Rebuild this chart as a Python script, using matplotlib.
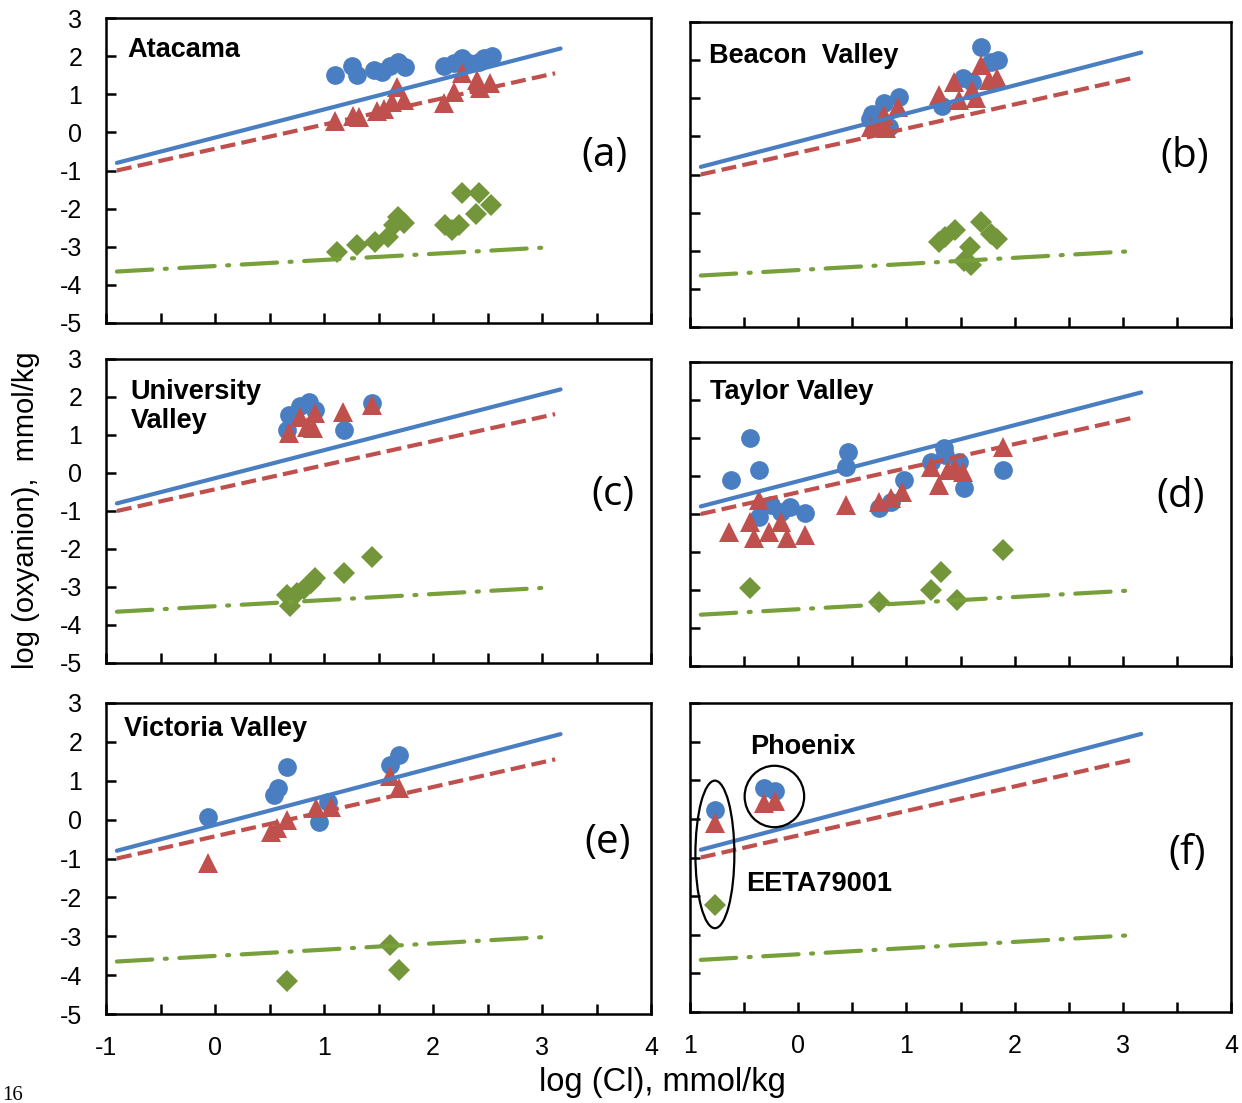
import matplotlib
matplotlib.use("Agg")
import matplotlib.pyplot as plt
from matplotlib.patches import Ellipse

# ---------------- data (log Cl vs log oxyanion, mmol/kg) ----------------
# Panel (a) Atacama
a_circ_x = [1.10, 1.26, 1.30, 1.46, 1.53, 1.61, 1.68, 1.74, 2.10, 2.19, 2.27, 2.33, 2.42, 2.47, 2.54]
a_circ_y = [1.50, 1.74, 1.50, 1.64, 1.59, 1.74, 1.85, 1.72, 1.74, 1.82, 1.95, 1.82, 1.85, 1.95, 2.00]
a_tri_x = [1.10, 1.27, 1.32, 1.49, 1.55, 1.62, 1.67, 1.73, 2.10, 2.19, 2.27, 2.40, 2.43, 2.52]
a_tri_y = [0.30, 0.42, 0.40, 0.55, 0.62, 0.80, 1.20, 0.85, 0.77, 1.07, 1.55, 1.37, 1.16, 1.29]
a_dia_x = [1.12, 1.30, 1.47, 1.59, 1.64, 1.68, 1.73, 2.11, 2.17, 2.24, 2.27, 2.42, 2.39, 2.53]
a_dia_y = [-3.13, -2.96, -2.87, -2.74, -2.43, -2.21, -2.39, -2.43, -2.56, -2.43, -1.60, -1.60, -2.13, -1.91]

# Panel (b) Beacon Valley
b_circ_x = [0.66, 0.68, 0.79, 0.93, 0.84, 1.33, 1.52, 1.61, 1.69, 1.78, 1.85]
b_circ_y = [0.45, 0.60, 0.87, 1.04, 0.25, 0.80, 1.53, 1.43, 2.35, 1.96, 2.00]
b_tri_x = [0.67, 0.75, 0.81, 0.79, 0.92, 1.30, 1.44, 1.49, 1.61, 1.64, 1.69, 1.76, 1.84]
b_tri_y = [0.25, 0.25, 0.22, 0.56, 0.78, 1.08, 1.43, 0.95, 1.22, 1.00, 1.87, 1.48, 1.53]
b_dia_x = [1.30, 1.36, 1.45, 1.53, 1.60, 1.59, 1.69, 1.78, 1.84]
b_dia_y = [-2.77, -2.64, -2.45, -3.28, -3.38, -2.90, -2.24, -2.55, -2.68]

# Panel (c) University Valley
c_circ_x = [0.66, 0.68, 0.78, 0.86, 0.92, 1.18, 1.44]
c_circ_y = [1.13, 1.53, 1.75, 1.88, 1.66, 1.13, 1.83]
c_tri_x = [0.68, 0.78, 0.84, 0.90, 0.92, 1.17, 1.44]
c_tri_y = [1.04, 1.48, 1.22, 1.18, 1.57, 1.61, 1.79]
c_dia_x = [0.66, 0.69, 0.75, 0.82, 0.88, 0.92, 1.18, 1.44]
c_dia_y = [-3.20, -3.50, -3.15, -3.05, -2.90, -2.76, -2.63, -2.21]

# Panel (d) Taylor Valley
d_circ_x = [-0.62, -0.45, -0.36, -0.36, -0.25, -0.16, -0.08, 0.06, 0.46, 0.44, 0.75, 0.86, 0.98,
            1.23, 1.35, 1.36, 1.49, 1.53, 1.89]
d_circ_y = [-0.11, 0.99, 0.16, -1.07, -0.76, -0.94, -0.81, -0.98, 0.64, 0.24, -0.85, -0.68, -0.11,
            0.38, 0.73, 0.55, 0.38, -0.32, 0.16]
d_tri_x = [-0.64, -0.45, -0.41, -0.36, -0.27, -0.16, -0.10, 0.06, 0.44, 0.75, 0.86, 0.96,
           1.23, 1.30, 1.38, 1.45, 1.52, 1.89]
d_tri_y = [-1.47, -1.20, -1.64, -0.63, -1.47, -1.20, -1.64, -1.55, -0.76, -0.68, -0.59, -0.41,
           0.25, -0.24, 0.16, 0.22, 0.11, 0.77]
d_dia_x = [-0.45, 0.75, 1.23, 1.32, 1.47, 1.89]
d_dia_y = [-2.96, -3.31, -3.00, -2.52, -3.26, -1.95]

# Panel (e) Victoria Valley
e_circ_x = [-0.06, 0.54, 0.58, 0.66, 0.95, 1.04, 1.61, 1.69]
e_circ_y = [0.08, 0.63, 0.81, 1.36, -0.05, 0.46, 1.41, 1.66]
e_tri_x = [-0.06, 0.51, 0.57, 0.66, 0.93, 1.06, 1.61, 1.69]
e_tri_y = [-1.12, -0.31, -0.22, -0.01, 0.29, 0.33, 1.11, 0.81]
e_dia_x = [0.66, 1.61, 1.69]
e_dia_y = [-4.16, -3.22, -3.86]

# Panel (f) Mars: EETA79001 and Phoenix
f_circ_x = [-0.77, -0.32, -0.21]
f_circ_y = [0.23, 0.80, 0.73]
f_tri_x = [-0.77, -0.32, -0.21]
f_tri_y = [-0.11, 0.41, 0.46]
f_dia_x = [-0.77]
f_dia_y = [-2.23]

# Reference lines (same in every panel)
blue_line_x = [-0.90, 3.17]
blue_line_y = [-0.80, 2.20]
red_line_x = [-0.90, 3.12]
red_line_y = [-1.00, 1.55]
green_line_x = [-0.90, 3.03]
green_line_y = [-3.65, -3.02]

site_names = ["Atacama", "Beacon  Valley", "University\nValley", "Taylor Valley", "Victoria Valley", ""]
panel_tags = ["(a)", "(b)", "(c)", "(d)", "(e)", "(f)"]
x_ticks = [-1, 0, 1, 2, 3, 4]
x_ticklabels_left = ["-1", "0", "1", "2", "3", "4"]
x_ticklabels_right = ["1", "0", "1", "2", "3", "4"]
y_ticks = [-5, -4, -3, -2, -1, 0, 1, 2, 3]

panels = [
    (a_circ_x, a_circ_y, a_tri_x, a_tri_y, a_dia_x, a_dia_y),
    (b_circ_x, b_circ_y, b_tri_x, b_tri_y, b_dia_x, b_dia_y),
    (c_circ_x, c_circ_y, c_tri_x, c_tri_y, c_dia_x, c_dia_y),
    (d_circ_x, d_circ_y, d_tri_x, d_tri_y, d_dia_x, d_dia_y),
    (e_circ_x, e_circ_y, e_tri_x, e_tri_y, e_dia_x, e_dia_y),
    (f_circ_x, f_circ_y, f_tri_x, f_tri_y, f_dia_x, f_dia_y),
]

# ---------------- styling ----------------
BLUE = "#4a7ec2"
RED = "#c0504d"
GREEN_M = "#74963a"
GREEN_L = "#77a03a"
W, H = 1242, 1103
plt.rcParams['font.family'] = ['Liberation Sans', 'DejaVu Sans']
plt.rcParams['axes.unicode_minus'] = False

fig = plt.figure(figsize=(W / 100, H / 100), dpi=100)

# axes boxes in pixels: (left, top, right, bottom)
boxes = [
    (106, 18, 651, 323),
    (690, 22, 1231, 327),
    (106, 359, 651, 663),
    (690, 362, 1231, 666),
    (106, 703, 651, 1014),
    (690, 703, 1231, 1012),
]
label_pos = [(0.040, 0.895), (0.035, 0.89), (0.045, 0.845), (0.037, 0.90), (0.033, 0.916), None]
tag_pos = [(0.915, 0.55), (0.915, 0.557), (0.93, 0.553), (0.907, 0.556), (0.92, 0.55), (0.918, 0.513)]

for i, (box, data) in enumerate(zip(boxes, panels)):
    l, t, r, b = box
    ax = fig.add_axes([l / W, 1 - b / H, (r - l) / W, (b - t) / H])
    cx, cy, tx, ty, dx, dy = data
    ax.plot(cx, cy, 'o', color=BLUE, ms=13.5, mew=0, zorder=3)
    ax.plot(tx, ty, '^', color=RED, ms=14, mew=0, zorder=3)
    ax.plot(dx, dy, 'D', color=GREEN_M, ms=11.5, mew=0, zorder=3)
    ax.plot(blue_line_x, blue_line_y, '-', color=BLUE, lw=3.0, zorder=4, solid_capstyle='round')
    ax.plot(red_line_x, red_line_y, color=RED, lw=3.0, zorder=4, linestyle=(0, (3.6, 1.5)))
    ax.plot(green_line_x, green_line_y, color=GREEN_L, lw=3.0, zorder=4,
            linestyle=(0, (8.5, 3, 0.5, 3)), dash_capstyle='round')

    ax.set_xlim(-1, 4)
    ax.set_ylim(-5, 3)
    ax.set_xticks([-0.5, 0.5, 1.5, 2.5, 3.5], minor=True)
    ax.set_xticks(x_ticks)
    ax.set_yticks(y_ticks)
    ax.tick_params(which='both', direction='in', width=1.8, length=7, labelsize=18)
    ax.tick_params(axis='x', which='both', top=False)
    ax.tick_params(axis='y', right=False, pad=17)
    ax.tick_params(axis='x', pad=16)
    for sp in ax.spines.values():
        sp.set_linewidth(1.8)
        sp.set_color('black')

    left_col = (i % 2 == 0)
    bottom_row = (i >= 4)
    if not left_col:
        ax.set_yticklabels([])
    if bottom_row:
        ax.set_xticklabels(x_ticklabels_left if left_col else x_ticklabels_right)
    else:
        ax.set_xticklabels([])

    if label_pos[i] is not None:
        ax.text(label_pos[i][0], label_pos[i][1], site_names[i], transform=ax.transAxes,
                fontsize=19.5, fontweight='bold', ha='left', va='center', linespacing=1.15)
    ax.text(tag_pos[i][0], tag_pos[i][1], panel_tags[i], transform=ax.transAxes,
            fontsize=29, ha='center', va='center', family=['Open Sans', 'DejaVu Sans'])

    if i == 5:
        ax.add_patch(Ellipse((-0.77, -0.92), 0.36, 3.82, fill=False, ec='black', lw=1.6, zorder=5))
        ax.add_patch(Ellipse((-0.22, 0.58), 0.55, 1.59, fill=False, ec='black', lw=1.6, zorder=5))
        ax.text(0.112, 0.856, "Phoenix", transform=ax.transAxes, fontsize=19.5,
                fontweight='bold', ha='left', va='center')
        ax.text(0.104, 0.415, "EETA79001", transform=ax.transAxes, fontsize=19.5,
                fontweight='bold', ha='left', va='center')

fig.text(26 / W, 1 - 510 / H, "log (oxyanion),  mmol/kg", rotation=90, fontsize=21,
         ha='center', va='center')
fig.text(662 / W, 1 - 1083 / H, "log (Cl), mmol/kg", fontsize=23.5, ha='center', va='center')
fig.text(0.002, 1 - 1100 / H, "16", fontsize=15, family=['Liberation Serif', 'DejaVu Serif'],
         ha='left', va='baseline')

fig.savefig("out.png", dpi=100)
